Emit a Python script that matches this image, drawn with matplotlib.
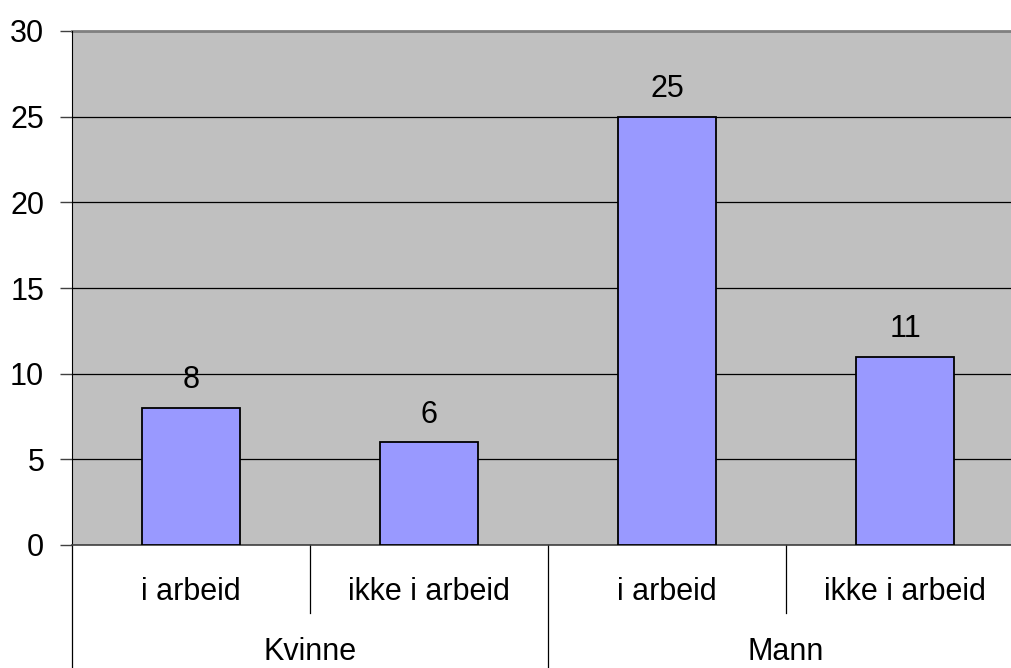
import matplotlib
matplotlib.use("Agg")
import matplotlib.pyplot as plt
import matplotlib.transforms as mtransforms

plt.rcParams["font.family"] = ["Liberation Sans", "DejaVu Sans"]

# data
groups = ["Kvinne", "Mann"]
subgroups = ["i arbeid", "ikke i arbeid", "i arbeid", "ikke i arbeid"]
values = [8, 6, 25, 11]

fig = plt.figure(figsize=(10.11, 6.68), dpi=100)
# plot area runs slightly past the right edge of the image, as in the source
ax = fig.add_axes([72 / 1011, 1 - 545 / 668, 952 / 1011, 514 / 668])
ax.set_facecolor("#C0C0C0")

xs = list(range(len(values)))
bars = ax.bar(xs, values, width=0.41, color="#9999FF", edgecolor="black",
              linewidth=1.3, zorder=3)
for rect, v in zip(bars, values):
    ax.annotate(str(v), (rect.get_x() + rect.get_width() / 2, v),
                xytext=(0, 9), textcoords="offset points",
                ha="center", va="bottom", fontsize=22)

ax.set_xlim(-0.5, len(values) - 0.5)
ax.set_ylim(0, 30)
ax.set_yticks(range(0, 31, 5))
ax.yaxis.grid(True, color="black", linewidth=0.9, zorder=0)
ax.set_axisbelow(True)
ax.tick_params(axis="y", length=9, width=1, color="#404040", pad=11, labelsize=22)
ax.set_xticks([])

for side in ("top", "right"):
    ax.spines[side].set_visible(False)
ax.spines["left"].set_color("black")
ax.spines["bottom"].set_color("#404040")
ax.spines["bottom"].set_linewidth(1.2)
ax.axhline(30, color="#808080", linewidth=2, clip_on=False)

# two-level category axis
trans = mtransforms.blended_transform_factory(ax.transData, ax.transAxes)
for i, lab in enumerate(subgroups):
    ax.text(i, -0.0914, lab, transform=trans, ha="center", va="center", fontsize=22)
for i in (0.5, 2.5):
    ax.plot([i, i], [0, -0.132], transform=trans, color="black", lw=0.9, clip_on=False)
for i in (-0.5, 1.5):
    ax.plot([i, i], [0, -0.3], transform=trans, color="black", lw=0.9, clip_on=False)
n_sub = len(subgroups) // len(groups)
for g, lab in enumerate(groups):
    ax.text(g * n_sub + (n_sub - 1) / 2, -0.2372, lab, transform=trans,
            ha="center", va="bottom", fontsize=22)

fig.savefig("out.png", dpi=100)
